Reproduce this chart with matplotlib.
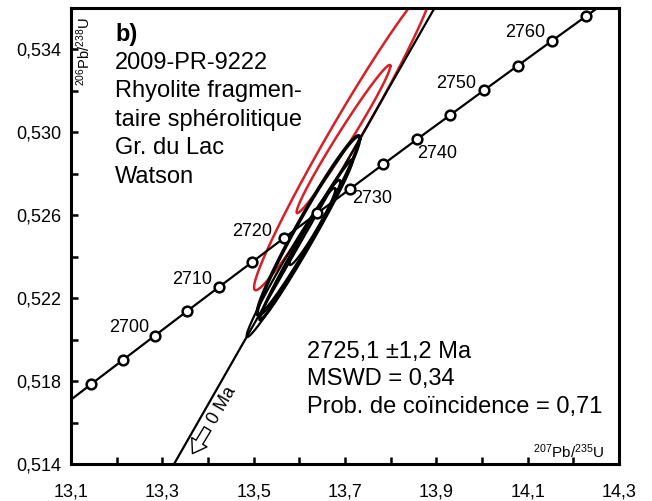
import numpy as np
import matplotlib
matplotlib.use('Agg')
import matplotlib.pyplot as plt
from matplotlib.ticker import FuncFormatter

plt.rcParams['font.family'] = 'Liberation Sans'

# %% concordia points (Ma)
conc_age = [2685, 2690, 2695, 2700, 2705, 2710, 2715, 2720, 2725, 2730,
            2735, 2740, 2745, 2750, 2755, 2760, 2765, 2770, 2775]
conc_x = [13.0739, 13.1434, 13.2132, 13.2834, 13.3539, 13.4247, 13.4959, 13.5675, 13.6394, 13.7117,
          13.7843, 13.8573, 13.9306, 14.0043, 14.0784, 14.1528, 14.2276, 14.3028, 14.3783]
conc_y = [0.51666, 0.51784, 0.51901, 0.52019, 0.52137, 0.52255, 0.52373, 0.52492, 0.52610, 0.52728,
          0.52847, 0.52966, 0.53084, 0.53203, 0.53322, 0.53441, 0.53560, 0.53679, 0.53798]
label_ages = [2700, 2710, 2720, 2730, 2740, 2750, 2760]

# zircon analyses used in the age (black) : 207/235, 1s, 206/238, 1s, rho
blk_x = [13.6200, 13.5872, 13.6146, 13.6288]
blk_sx = [0.05613, 0.05132, 0.0507, 0.02507]
blk_y = [0.525507, 0.523915, 0.524807, 0.525459]
blk_sy = [0.002163, 0.001895, 0.001932, 0.000931]
blk_rho = [0.9747, 0.9849, 0.9888, 0.9677]

# analyses rejected (red)
red_x = [13.6967, 13.6967]
red_sx = [0.09793, 0.05133]
red_y = [0.52975, 0.52968]
red_sy = [0.003683, 0.001787]
red_rho = [0.9811, 0.9844]

# discordia: lower intercept 0 Ma, upper intercept 2725,1 Ma
disc_x = [0.0, 13.6394]
disc_y = [0.0, 0.52610]

xticks = [13.1, 13.3, 13.5, 13.7, 13.9, 14.1, 14.3]
xticks_minor = [13.2, 13.4, 13.6, 13.8, 14.0, 14.2]
yticks = [0.514, 0.518, 0.522, 0.526, 0.530, 0.534]
yticks_minor = [0.516, 0.520, 0.524, 0.528, 0.532]


def ellipse(x, sx, y, sy, rho, k=2.0, n=300):
    cov = np.array([[sx**2, rho*sx*sy], [rho*sx*sy, sy**2]])
    L = np.linalg.cholesky(cov)
    t = np.linspace(0, 2*np.pi, n)
    pts = k * L @ np.vstack([np.cos(t), np.sin(t)])
    return x + pts[0], y + pts[1]


W, H = 652, 501
fig = plt.figure(figsize=(W/100, H/100), dpi=100)
ax = fig.add_axes([71/W, 37/H, 548/W, 456/H])
ax.set_xlim(13.1, 14.3)
ax.set_ylim(0.514, 0.536)

red = '#d91f26'
for i in range(len(red_x)):
    ex, ey = ellipse(red_x[i], red_sx[i], red_y[i], red_sy[i], red_rho[i])
    ax.plot(ex, ey, color=red, lw=1.8, zorder=2)

blk_lw = [2.6, 1.6, 2.2, 1.6]
for i in range(len(blk_x)):
    ex, ey = ellipse(blk_x[i], blk_sx[i], blk_y[i], blk_sy[i], blk_rho[i])
    ax.plot(ex, ey, color='k', lw=blk_lw[i], zorder=3)

# discordia line, extended across the plot
slope = (disc_y[1] - disc_y[0]) / (disc_x[1] - disc_x[0])
xx = np.array([13.0, 14.0])
ax.plot(xx, disc_y[0] + slope*(xx - disc_x[0]), color='k', lw=1.6, zorder=4)

# concordia
ax.plot(conc_x, conc_y, color='k', lw=1.6, zorder=5)
ax.plot(conc_x, conc_y, 'o', ms=7, mfc='white', mec='k', mew=1.8, zorder=6)

offsets = {2700: (-26, 8), 2710: (-27, 7), 2720: (-32, 6), 2730: (22, -10),
           2740: (20, -14), 2750: (-28, 7), 2760: (-27, 8)}
for a in label_ages:
    i = conc_age.index(a)
    ax.annotate(str(a), (conc_x[i], conc_y[i]), xytext=offsets[a], textcoords='offset pixels',
                ha='center', va='center', fontsize=13, zorder=7)

# 0 Ma arrow
ax.text(13.431, 0.51685, '0 Ma', rotation=60, ha='center', va='center', fontsize=13)
ax.annotate('', xy=(13.366, 0.5145), xytext=(13.399, 0.5157),
            arrowprops=dict(arrowstyle='simple,head_length=0.6,head_width=0.8,tail_width=0.35',
                            fc='white', ec='k', lw=1.0, mutation_scale=16,
                            shrinkA=0, shrinkB=0))

ax.set_xticks(xticks)
ax.set_xticks(xticks_minor, minor=True)
ax.set_yticks(yticks)
ax.set_yticks(yticks_minor, minor=True)
ax.xaxis.set_major_formatter(FuncFormatter(lambda v, p: f'{v:.1f}'.replace('.', ',')))
ax.yaxis.set_major_formatter(FuncFormatter(lambda v, p: f'{v:.3f}'.replace('.', ',')))
ax.tick_params(which='both', direction='in', length=5, width=1.8, labelsize=13)
ax.tick_params(axis='x', pad=14)
ax.tick_params(axis='y', pad=7)
for s in ax.spines.values():
    s.set_linewidth(2.2)

fig.text(84/W, 1 - 52/H, r'$\mathregular{^{206}Pb/^{238}U}$', rotation=90,
         ha='center', va='center', fontsize=10.5)
fig.text(569/W, 1 - 452/H, r'$\mathregular{^{207}Pb/^{235}U}$',
         ha='center', va='center', fontsize=11)

fig.text(115/W, 1 - 35/H, 'b)', fontsize=17, weight='bold', va='center')
lines = ['2009-PR-9222', 'Rhyolite fragmen-', 'taire sphérolitique', 'Gr. du Lac', 'Watson']
for j, t in enumerate(lines):
    fig.text(115/W, 1 - (63 + 28.5*j)/H, t, fontsize=17, va='center')

res = ['2725,1 \u00b11,2 Ma', 'MSWD = 0,34', 'Prob. de coïncidence = 0,71']
for j, t in enumerate(res):
    fig.text(307/W, 1 - (352 + 27.5*j)/H, t, fontsize=17, va='center')

fig.savefig('out.png', dpi=100)
